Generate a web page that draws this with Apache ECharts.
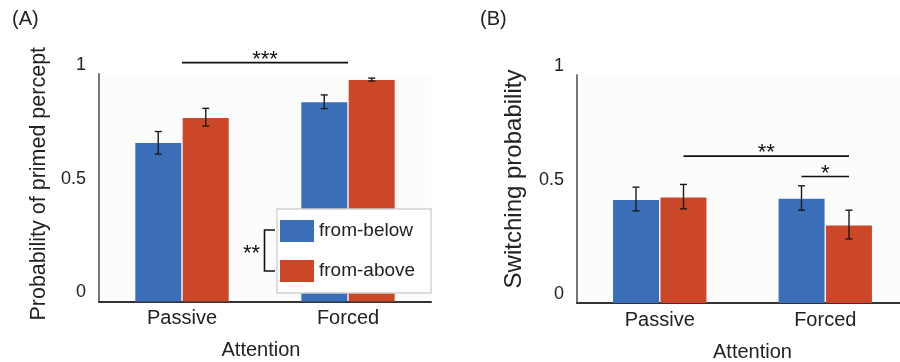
<!DOCTYPE html>
<html>
<head>
<meta charset="utf-8">
<script src="https://cdn.jsdelivr.net/npm/echarts@6/dist/echarts.min.js"></script>
<style>html,body{margin:0;padding:0;background:#fff}#c{width:900px;height:362px}</style>
</head>
<body>
<div id="c"></div>
<script>
// ---- data ----
const categories = ['Passive', 'Forced'];
const seriesNames = ['from-below', 'from-above'];
const primedBelow = [0.697, 0.876];
const primedAbove = [0.807, 0.974];
const primedBelowErr = [[0.648, 0.747], [0.848, 0.908]];
const primedAboveErr = [[0.771, 0.849], [0.969, 0.982]];
const switchBelow = [0.452, 0.457];
const switchAbove = [0.463, 0.340];
const switchBelowErr = [[0.404, 0.508], [0.407, 0.514]];
const switchAboveErr = [[0.413, 0.520], [0.281, 0.407]];
const yTickMin = 0, yTickMax = 1, yTickStep = 0.5;
const panelLabels = ['(A)', '(B)'];
const axisTitleX = 'Attention';
const axisTitleYA = 'Probability of primed percept';
const axisTitleYB = 'Switching probability';
// significance: [fromCat, fromSide, toCat, toSide, level, label]
const sigA = [[0, 0, 1, 0, 1.05, '***']];
const sigB = [[0, 1, 1, 1, 0.644, '**'], [1, -1, 1, 1, 0.555, '*']];

// ---- style ----
const BLUE = '#3a6eb8', RED = '#cb4727';
const BAR_W = 46, BAR_GAP = 1.5;
const OFF = (BAR_W + BAR_GAP) / 2;
const FONT = 'Liberation Sans, Arial, sans-serif';
const TXT = '#222';

function errData(belowErr, aboveErr) {
  const d = [];
  belowErr.forEach((e, i) => d.push([i, e[0], e[1], -1]));
  aboveErr.forEach((e, i) => d.push([i, e[0], e[1], 1]));
  return d;
}
function errRender(params, api) {
  const x = api.value(0), lo = api.value(1), hi = api.value(2), side = api.value(3);
  const a = api.coord([x, lo]), b = api.coord([x, hi]);
  const cx = a[0] + side * OFF;
  const cap = 3.5;
  const st = { stroke: '#1a1a1a', lineWidth: 1.4 };
  return { type: 'group', children: [
    { type: 'line', shape: { x1: cx, y1: a[1], x2: cx, y2: b[1] }, style: st },
    { type: 'line', shape: { x1: cx - cap, y1: a[1], x2: cx + cap, y2: a[1] }, style: st },
    { type: 'line', shape: { x1: cx - cap, y1: b[1], x2: cx + cap, y2: b[1] }, style: st }
  ]};
}
function sigRender(list) {
  return function (params, api) {
    const s = list[params.dataIndex];
    const p1 = api.coord([s[0], s[4]]), p2 = api.coord([s[2], s[4]]);
    const x1 = p1[0] + s[1] * OFF, x2 = p2[0] + s[3] * OFF;
    return { type: 'group', children: [
      { type: 'line', shape: { x1: x1, y1: p1[1], x2: x2, y2: p1[1] }, style: { stroke: '#111', lineWidth: 1.6 } },
      { type: 'text', style: { x: (x1 + x2) / 2, y: p1[1] + 8, text: s[5], fill: '#111', font: '22px ' + FONT, align: 'center', verticalAlign: 'bottom' } }
    ]};
  };
}

const xAxisBase = (gi, nameOffset) => ({
  type: 'category', gridIndex: gi, data: categories,
  axisLine: { lineStyle: { color: '#333', width: 2 } },
  axisTick: { show: false },
  axisLabel: { fontSize: 20, color: TXT, fontFamily: FONT, margin: 7 },
  name: axisTitleX, nameLocation: 'middle', nameGap: 39,
  nameTextStyle: { fontSize: 20, color: TXT, fontFamily: FONT, padding: nameOffset }
});
const yAxisBase = (gi, name, gap, size, pad) => ({
  type: 'value', gridIndex: gi, min: yTickMin, max: yTickMax, interval: yTickStep,
  splitLine: { show: false },
  axisTick: { show: false },
  axisLine: { show: true, lineStyle: { color: '#777', width: 2 } },
  axisLabel: { fontSize: 18, color: TXT, fontFamily: FONT, margin: 13, verticalAlign: 'bottom' },
  name: name, nameLocation: 'middle', nameGap: gap, nameRotate: 90,
  nameTextStyle: { fontSize: size, color: TXT, fontFamily: FONT, padding: pad }
});

const chart = echarts.init(document.getElementById('c'), null, { renderer: 'canvas' });
chart.setOption({
  animation: false,
  backgroundColor: '#fff',
  grid: [
    { left: 99, top: 74, width: 332, height: 227.5, show: true, backgroundColor: '#fcfcfc', borderWidth: 0, outerBoundsMode: 'none', containLabel: false },
    { left: 577, top: 75, width: 331, height: 228, show: true, backgroundColor: '#fcfcfc', borderWidth: 0, outerBoundsMode: 'none', containLabel: false }
  ],
  xAxis: [xAxisBase(0, [0, 8, 0, 0]), xAxisBase(1, [0, 0, 0, 20])],
  yAxis: [yAxisBase(0, axisTitleYA, 49, 21.5, [0, 0, 0, 8]), yAxisBase(1, axisTitleYB, 51, 24, [0, 0, 0, 20])],
  legend: {
    data: seriesNames, orient: 'vertical', left: 277, top: 209,
    icon: 'rect', itemWidth: 34, itemHeight: 22, itemGap: 18,
    textStyle: { fontSize: 19, color: TXT, fontFamily: FONT },
    borderColor: '#cfcfcf', borderWidth: 1.3, backgroundColor: '#fff',
    padding: [11, 16, 11, 3], z: 10
  },
  graphic: [
    { type: 'text', left: 12, top: 9, style: { text: panelLabels[0], font: '20px ' + FONT, fill: TXT } },
    { type: 'text', left: 480, top: 9, style: { text: panelLabels[1], font: '20px ' + FONT, fill: TXT } },
    { type: 'polyline', z: 20, shape: { points: [[275, 230], [264.5, 230], [264.5, 271], [275, 271]] }, style: { stroke: '#111', lineWidth: 1.6, fill: null } },
    { type: 'text', z: 20, left: 243, top: 243, style: { text: '**', font: '22px ' + FONT, fill: '#111' } }
  ],
  series: [
    { name: seriesNames[0], type: 'bar', xAxisIndex: 0, yAxisIndex: 0, data: primedBelow, barWidth: BAR_W, barGap: '3%', itemStyle: { color: BLUE } },
    { name: seriesNames[1], type: 'bar', xAxisIndex: 0, yAxisIndex: 0, data: primedAbove, barWidth: BAR_W, barGap: '3%', itemStyle: { color: RED } },
    { name: seriesNames[0], type: 'bar', xAxisIndex: 1, yAxisIndex: 1, data: switchBelow, barWidth: BAR_W, barGap: '3%', itemStyle: { color: BLUE } },
    { name: seriesNames[1], type: 'bar', xAxisIndex: 1, yAxisIndex: 1, data: switchAbove, barWidth: BAR_W, barGap: '3%', itemStyle: { color: RED } },
    { type: 'custom', xAxisIndex: 0, yAxisIndex: 0, data: errData(primedBelowErr, primedAboveErr), renderItem: errRender, z: 5, silent: true },
    { type: 'custom', xAxisIndex: 1, yAxisIndex: 1, data: errData(switchBelowErr, switchAboveErr), renderItem: errRender, z: 5, silent: true },
    { type: 'custom', xAxisIndex: 0, yAxisIndex: 0, data: sigA.map(s => [s[0], s[4]]), renderItem: sigRender(sigA), clip: false, z: 5, silent: true },
    { type: 'custom', xAxisIndex: 1, yAxisIndex: 1, data: sigB.map(s => [s[0], s[4]]), renderItem: sigRender(sigB), clip: false, z: 5, silent: true }
  ]
});
</script>
</body>
</html>
